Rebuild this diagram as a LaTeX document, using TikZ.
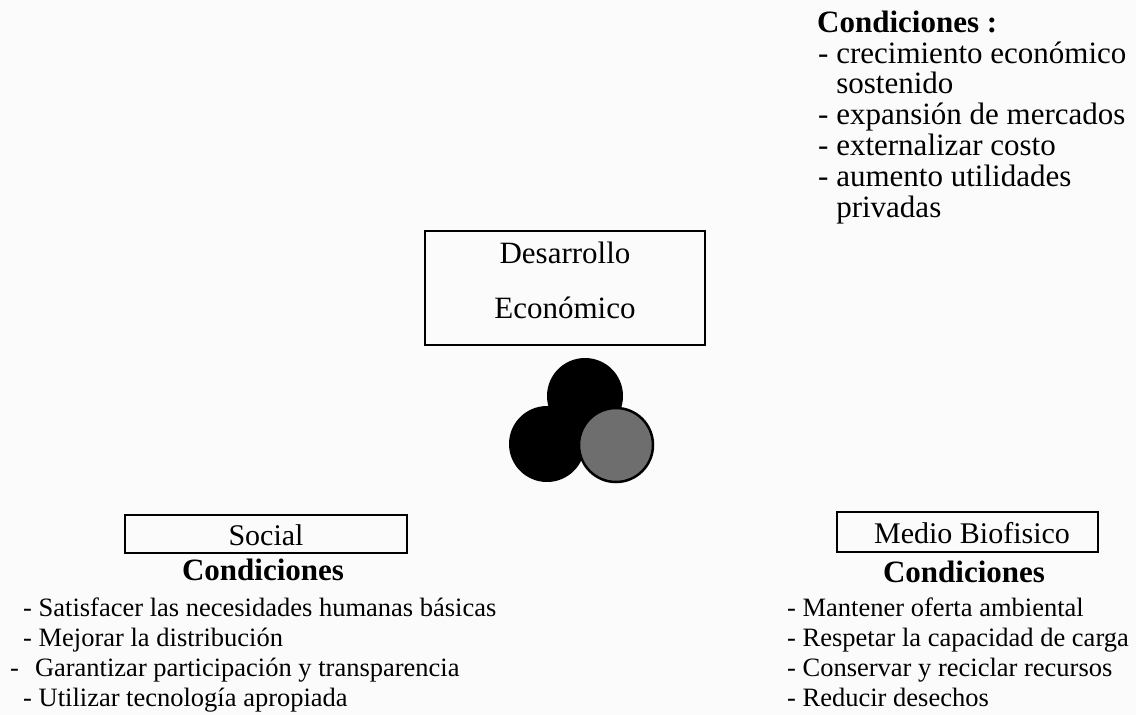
\documentclass[tikz,border=0pt]{standalone}
\usepackage{fontspec}
\setmainfont{Liberation Serif}
\usepackage{tikz}

\begin{document}
\begin{tikzpicture}[x=1pt,y=-1pt,
	caja/.style={draw, line width=1.6pt, inner sep=0pt},
	lista/.style={anchor=base west, inner sep=0pt, font=\fontsize{26.5}{30}\selectfont},
	titulo/.style={anchor=base, inner sep=0pt, font=\fontsize{31}{36}\selectfont\bfseries}]
	% Fondo y margenes
	\fill[white!97!gray] (0,0) rectangle (1136,715);
	\useasboundingbox (0,0) rectangle (1136,715);
	% Condiciones del desarrollo economico
	\node[titulo, anchor=base west] (condecon) at (817,32) {Condiciones :};
	\foreach \linea [count=\i from 0] in {- crecimiento económico, {\phantom{- }sostenido}, - expansión de mercados, - externalizar costo, - aumento utilidades, {\phantom{- }privadas}}{
		\node[lista, font=\fontsize{31}{36}\selectfont] (econ\i) at (818,{63+30.9*\i}) {\linea};}
	% Cajas
	\node[caja, minimum width=280pt, minimum height=114pt] (desarrollo) at (565,288) {};
	\node[anchor=base, font=\fontsize{31}{36}\selectfont] (desa) at (565,263) {Desarrollo};
	\node[anchor=base, font=\fontsize{31}{36}\selectfont] (econo) at (565,318) {Económico};
	\node[caja, minimum width=282pt, minimum height=38pt] (social) at (266,534) {};
	\node[anchor=base, font=\fontsize{30}{36}\selectfont] (soc) at (266,545) {Social};
	\node[caja, minimum width=261pt, minimum height=40pt] (medio) at (967.5,532) {};
	\node[anchor=base, font=\fontsize{30}{36}\selectfont] (bio) at (972,543) {Medio Biofisico};
	% Circulos
	\fill (547,444) circle (38pt);
	\fill (585,396) circle (38pt);
	\draw[fill=black!57, line width=2.5pt] (616,445) circle (37pt);
	% Condiciones sociales
	\node[titulo] (condsoc) at (263,580) {Condiciones};
	\node[lista] (soc0) at (23,616) {- Satisfacer las necesidades humanas básicas};
	\node[lista] (soc1) at (23,646) {- Mejorar la distribución};
	\node[lista] (soc2) at (10,676) {-\hspace{16pt}Garantizar participación y transparencia};
	\node[lista] (soc3) at (23,706) {- Utilizar tecnología apropiada};
	% Condiciones del medio biofisico
	\node[titulo] (condbio) at (964,582) {Condiciones};
	\foreach \linea [count=\i from 0] in {- Mantener oferta ambiental, - Respetar la capacidad de carga, - Conservar y reciclar recursos, - Reducir desechos}{
		\node[lista] (bio\i) at (787,{616+30*\i}) {\linea};}
\end{tikzpicture}
\end{document}
